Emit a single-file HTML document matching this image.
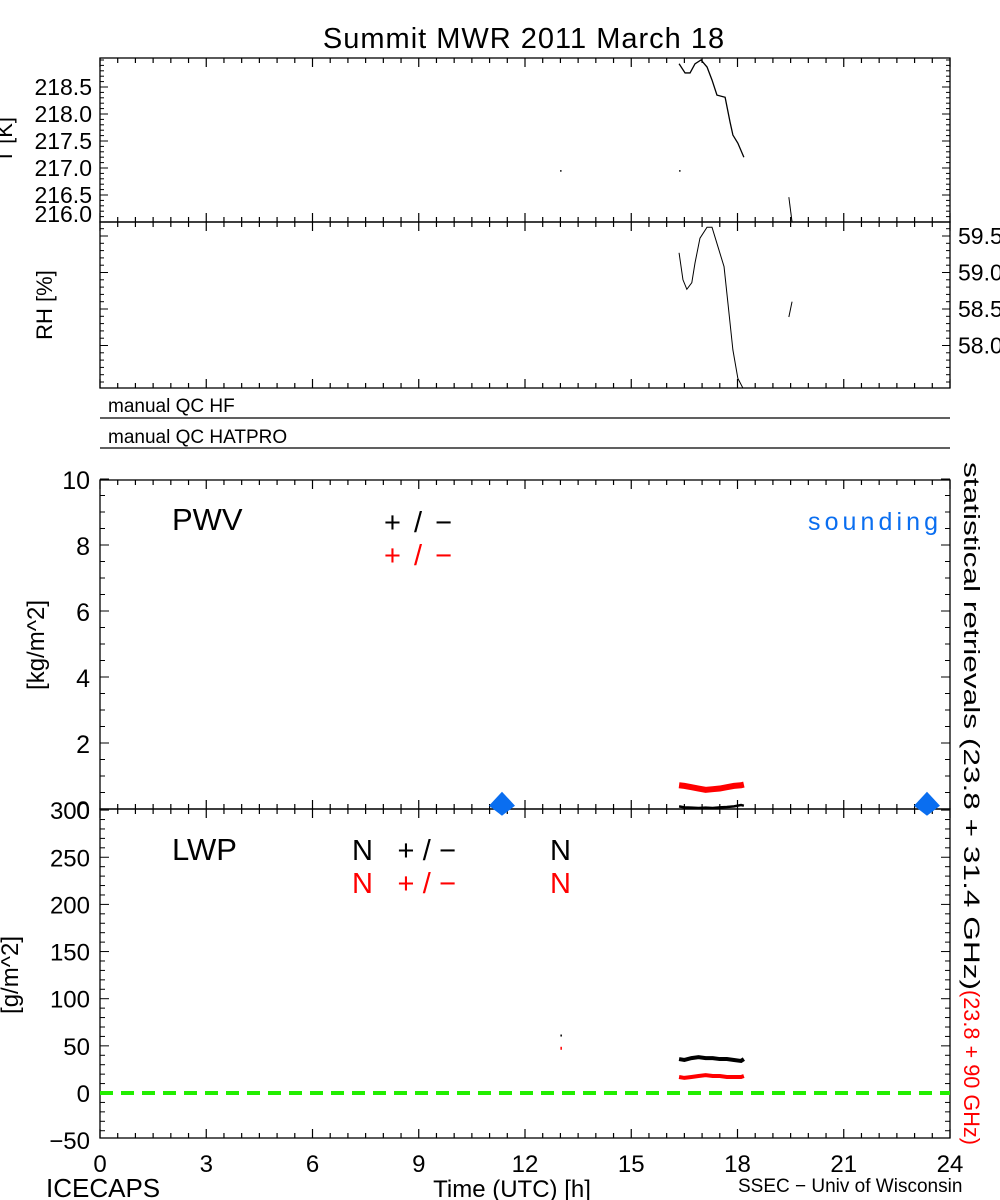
<!DOCTYPE html>
<html><head><meta charset="utf-8"><style>
html,body{margin:0;padding:0;background:#fff;}
svg{display:block;font-family:"Liberation Sans",sans-serif;}
</style></head><body>
<svg id="chart" width="1000" height="1200" viewBox="0 0 1000 1200" xmlns="http://www.w3.org/2000/svg">
<rect width="1000" height="1200" fill="#fff"/>
<text x="524" y="48" font-size="29" text-anchor="middle" letter-spacing="1">Summit MWR 2011 March 18</text>
<text transform="translate(12,140) rotate(-90)" font-size="22" text-anchor="middle">T [K]</text>
<text transform="translate(52,305) rotate(-90)" font-size="22" text-anchor="middle">RH [%]</text>
<text transform="translate(44,645) rotate(-90)" font-size="24" text-anchor="middle">[kg/m^2]</text>
<text transform="translate(18,975) rotate(-90)" font-size="24" text-anchor="middle">[g/m^2]</text>
<text x="108" y="412" font-size="19">manual QC HF</text>
<line x1="100" y1="418" x2="950" y2="418" stroke="#000" stroke-width="1.3"/>
<text x="108" y="443" font-size="19">manual QC HATPRO</text>
<line x1="100" y1="448" x2="950" y2="448" stroke="#000" stroke-width="1.3"/>
<text x="172" y="530" font-size="31">PWV</text>
<text x="384" y="532" font-size="29" textLength="68" lengthAdjust="spacing">+/−</text>
<text x="384" y="565" font-size="29" fill="#ff0000" textLength="68" lengthAdjust="spacing">+/−</text>
<text x="808" y="530" font-size="25" fill="#0a6ef0" textLength="130" lengthAdjust="spacing">sounding</text>
<text x="172" y="860" font-size="31">LWP</text>
<text x="352" y="860" font-size="29" textLength="104" lengthAdjust="spacing">N +/−</text>
<text x="550" y="860" font-size="29">N</text>
<text x="352" y="893" font-size="29" fill="#ff0000" textLength="104" lengthAdjust="spacing">N +/−</text>
<text x="550" y="893" font-size="29" fill="#ff0000">N</text>
<text transform="translate(964,462) rotate(90)" font-size="22" textLength="528" lengthAdjust="spacingAndGlyphs">statistical retrievals (23.8 + 31.4 GHz)</text>
<text transform="translate(964,990) rotate(90)" font-size="22" fill="#ff0000" textLength="155" lengthAdjust="spacingAndGlyphs">(23.8 + 90 GHz)</text>
<text x="512" y="1197" font-size="24" text-anchor="middle">Time (UTC) [h]</text>
<text x="46" y="1197" font-size="26">ICECAPS</text>
<text x="738" y="1192" font-size="19">SSEC − Univ of Wisconsin</text>
<g id="marks"></g>
</svg>
<script>
// ---- data ----
const tTime = [16.35,16.52,16.66,16.80,16.97,17.14,17.28,17.42,17.65,17.79,17.87,18.01,18.18];
const tValue = [218.93,218.76,218.76,218.93,219.0,218.87,218.63,218.35,218.31,217.85,217.61,217.46,217.2];
const tIsoTime = [12.99,16.35];
const tIsoValue = [216.96,216.96];
const tLateTime = [19.45,19.54];
const tLateValue = [216.46,216.0];
const tTicks = [218.5,218.0,217.5,217.0,216.5,216.0];
const tTickLabels = ["218.5","218.0","217.5","217.0","216.5","216.0"];
const rhTime = [16.35,16.46,16.57,16.71,16.80,16.94,17.14,17.28,17.45,17.62,17.73,17.87,18.01,18.15];
const rhValue = [59.27,58.90,58.77,58.86,59.13,59.47,59.62,59.62,59.35,59.08,58.58,57.94,57.55,57.42];
const rhLateTime = [19.45,19.54];
const rhLateValue = [58.39,58.60];
const rhTicks = [59.5,59.0,58.5,58.0];
const rhTickLabels = ["59.5","59.0","58.5","58.0"];
const pwvTime = [16.35,16.5,16.7,16.9,17.1,17.3,17.5,17.7,17.9,18.1,18.18];
const pwvRed = [0.72,0.70,0.66,0.62,0.58,0.60,0.62,0.66,0.70,0.72,0.74];
const pwvBlack = [0.08,0.05,0.04,0.03,0.04,0.03,0.05,0.06,0.08,0.12,0.10];
const soundTime = [11.35,23.35];
const soundPwv = [0.1,0.1];
const pwvTicks = [0,2,4,6,8,10];
const lwpTime = [16.35,16.5,16.7,16.9,17.1,17.3,17.5,17.7,17.9,18.1,18.18];
const lwpBlack = [36,35,37,38,37,37,36,36,35,34,36];
const lwpRed = [17,16,17,18,19,18,18,17,17,17,18];
const lwpIsoTime = [13.0];
const lwpIsoBlack = [62];
const lwpIsoRed = [49];
const lwpTicks = [-50,0,50,100,150,200,250,300];
const xTicks = [0,3,6,9,12,15,18,21,24];

// ---- scales ----
const X0=100, X1=950;
const x = h => X0 + h*(X1-X0)/24;
const yT = v => 87 - (v-218.5)*54;
const yRH = v => 236 - (v-59.5)*73;
const yPWV = v => 809 - v*33;
const yLWP = v => 1093 - v*0.943;
const NS="http://www.w3.org/2000/svg";
const g=document.getElementById('marks');
function mk(tag,attrs){const e=document.createElementNS(NS,tag);for(const k in attrs)e.setAttribute(k,attrs[k]);g.appendChild(e);return e;}
function poly(ts,vs,fy,col,w){return mk('polyline',{points:ts.map((t,i)=>x(t)+','+fy(vs[i])).join(' '),fill:'none',stroke:col,'stroke-width':w});}

// panel frames
const panels=[[58,222],[222,388],[480,809],[809,1138]];
panels.forEach((p,i)=>{
  const r=mk('rect',{x:X0,y:p[0],width:X1-X0,height:p[1]-p[0],fill:'none',stroke:'#000','stroke-width':1.3});
  
  
  for(let h=0;h<=24;h+=0.5){
    const major=(h%3===0), L=major?9:5;
    const a=mk('line',{x1:x(h),x2:x(h),y1:p[1],y2:p[1]-L,stroke:'#000','stroke-width':1.2});
    
    
    const b=mk('line',{x1:x(h),x2:x(h),y1:p[0],y2:p[0]+L,stroke:'#000','stroke-width':1.2});
    
    
  }
});
xTicks.forEach(h=>{const t=mk('text',{x:x(h),y:1172,'font-size':24,'text-anchor':'middle'});t.textContent=h;
  
  });

tTicks.forEach((v,i)=>{
  const yy = v===216.0 ? 214 : yT(v);
  const t=mk('text',{x:92,y:yy+8,'font-size':23,'text-anchor':'end'});t.textContent=tTickLabels[i];
  
  
  if(v!==216.0){mk('line',{x1:X0,x2:X0+8,y1:yT(v),y2:yT(v),stroke:'#000'});mk('line',{x1:X1,x2:X1-8,y1:yT(v),y2:yT(v),stroke:'#000'});}
});
for(let v=216.1;v<219;v+=0.1){const yy=yT(v);if(yy>58&&yy<222){mk('line',{x1:X0,x2:X0+4,y1:yy,y2:yy,stroke:'#000'});mk('line',{x1:X1,x2:X1-4,y1:yy,y2:yy,stroke:'#000'});}}
rhTicks.forEach((v,i)=>{
  const t=mk('text',{x:958,y:yRH(v)+8,'font-size':23});t.textContent=rhTickLabels[i];
  
  
  mk('line',{x1:X0,x2:X0+8,y1:yRH(v),y2:yRH(v),stroke:'#000'});mk('line',{x1:X1,x2:X1-8,y1:yRH(v),y2:yRH(v),stroke:'#000'});
});
for(let v=57.5;v<59.7;v+=0.1){const yy=yRH(v);if(yy>222&&yy<388){mk('line',{x1:X0,x2:X0+4,y1:yy,y2:yy,stroke:'#000'});mk('line',{x1:X1,x2:X1-4,y1:yy,y2:yy,stroke:'#000'});}}
pwvTicks.forEach(v=>{
  const t=mk('text',{x:90,y:yPWV(v)+10,'font-size':25,'text-anchor':'end'});t.textContent=v;
  
  
});
for(let v=0;v<=10;v+=0.5){const M=(v%2===0),L=M?9:5;mk('line',{x1:X0,x2:X0+L,y1:yPWV(v),y2:yPWV(v),stroke:'#000'});mk('line',{x1:X1,x2:X1-L,y1:yPWV(v),y2:yPWV(v),stroke:'#000'});}
lwpTicks.forEach(v=>{
  const t=mk('text',{x:90,y:yLWP(v)+9,'font-size':24,'text-anchor':'end'});t.textContent=v<0?'−'+(-v):v;
  
  
});
for(let v=-40;v<=300;v+=10){const M=(v%50===0),L=M?9:5;mk('line',{x1:X0,x2:X0+L,y1:yLWP(v),y2:yLWP(v),stroke:'#000'});mk('line',{x1:X1,x2:X1-L,y1:yLWP(v),y2:yLWP(v),stroke:'#000'});}

let e;
e=poly(tTime,tValue,yT,'#000',1.3);


e=poly(tLateTime,tLateValue,yT,'#000',1);


tIsoTime.forEach((t,i)=>{const d=mk('rect',{x:x(t),y:yT(tIsoValue[i]),width:1.5,height:1.5,fill:'#000'});
  
  });
e=poly(rhTime,rhValue,yRH,'#000',1);


e=poly(rhLateTime,rhLateValue,yRH,'#000',1);


e=poly(pwvTime,pwvRed,yPWV,'#ff0000',6);


e=poly(pwvTime,pwvBlack,yPWV,'#000',2.5);


soundTime.forEach((t,i)=>{const cx=x(t),cy=yPWV(soundPwv[i]);
  const d=mk('polygon',{points:`${cx},${cy-14} ${cx+13},${cy} ${cx},${cy+10} ${cx-13},${cy}`,fill:'#0a6ef0'});
  
  });
e=mk('line',{x1:X0,x2:X1,y1:yLWP(0),y2:yLWP(0),stroke:'#22ee00','stroke-width':4,'stroke-dasharray':'13,8'});


e=poly(lwpTime,lwpBlack,yLWP,'#000',4);


e=poly(lwpTime,lwpRed,yLWP,'#ff0000',4);


lwpIsoTime.forEach((t,i)=>{
  const a=mk('rect',{x:x(t),y:yLWP(lwpIsoBlack[i]),width:1.5,height:2,fill:'#000'});
  
  
  const b=mk('rect',{x:x(t),y:yLWP(lwpIsoRed[i]),width:1.5,height:3,fill:'#ff0000'});
  
  
});
</script>
</body></html>
